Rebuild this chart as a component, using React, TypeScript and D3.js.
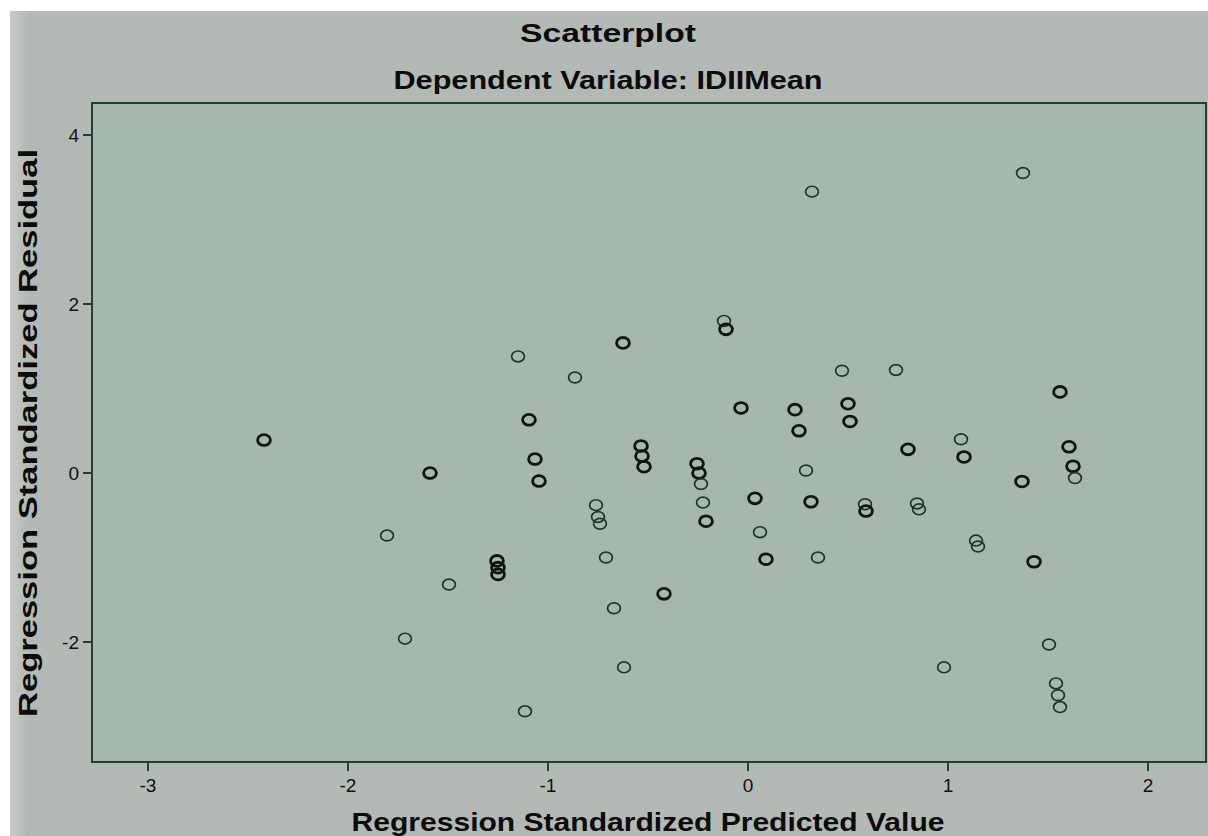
import React, { useEffect, useRef } from 'react';
import * as d3 from 'd3';

// values
const predicted = [
  -2.42, -1.805, -1.715, -1.59, -1.495, -1.255, -1.25, -1.25, -1.15, -1.115,
  -1.095, -1.065, -1.045, -0.865, -0.76, -0.75, -0.74, -0.71, -0.67, -0.625,
  -0.62, -0.535, -0.53, -0.52, -0.42, -0.255, -0.245, -0.235, -0.225, -0.21,
  -0.12, -0.11, -0.035, 0.035, 0.06, 0.09, 0.235, 0.255, 0.29, 0.32,
  0.315, 0.35, 0.47, 0.5, 0.51, 0.585, 0.59, 0.74, 0.8, 0.845,
  0.855, 0.98, 1.065, 1.08, 1.14, 1.15, 1.375, 1.37, 1.43, 1.505,
  1.54, 1.55, 1.56, 1.56, 1.605, 1.625, 1.635,
];
const residual = [
  0.39, -0.74, -1.96, 0.0, -1.32, -1.04, -1.12, -1.2, 1.38, -2.82,
  0.63, 0.165, -0.095, 1.13, -0.38, -0.52, -0.6, -1.0, -1.6, 1.54,
  -2.3, 0.32, 0.2, 0.075, -1.43, 0.11, 0.0, -0.13, -0.35, -0.57,
  1.8, 1.7, 0.77, -0.3, -0.7, -1.02, 0.75, 0.5, 0.03, 3.33,
  -0.34, -1.0, 1.21, 0.82, 0.61, -0.37, -0.45, 1.22, 0.28, -0.36,
  -0.43, -2.3, 0.4, 0.19, -0.8, -0.87, 3.55, -0.1, -1.05, -2.03,
  -2.49, -2.63, -2.77, 0.96, 0.31, 0.08, -0.06,
];
// 2 = overplotted cases (drawn darker in the original)
const overlap = [
  2, 1, 1, 2, 1, 2, 2, 2, 1, 1,
  2, 2, 2, 1, 1, 1, 1, 1, 1, 2,
  1, 2, 2, 2, 2, 2, 2, 1, 1, 2,
  1, 2, 2, 2, 1, 2, 2, 2, 1, 1,
  2, 1, 1, 2, 2, 1, 2, 1, 2, 1,
  1, 1, 1, 2, 1, 1, 1, 2, 2, 1,
  1, 1, 1, 2, 2, 2, 1,
];
const xTicks = [-3, -2, -1, 0, 1, 2];
const yTicks = [-2, 0, 2, 4];

const W = 1208;
const H = 836;

export default function App() {
  const svgRef = useRef<SVGSVGElement>(null);

  useEffect(() => {
    const svg = d3.select(svgRef.current);
    svg.selectAll('*').remove();

    const plot = { left: 92, top: 103, right: 1206, bottom: 762 };
    const x = d3.scaleLinear().domain([-3.28, 2.29]).range([plot.left, plot.right]);
    const y = d3.scaleLinear().domain([-3.42, 4.379]).range([plot.bottom, plot.top]);

    const defs = svg.append('defs');
    const edge = defs.append('linearGradient').attr('id', 'edgeFade').attr('x1', '0%').attr('x2', '100%');
    edge.append('stop').attr('offset', '0%').attr('stop-color', '#c7ccc9');
    edge.append('stop').attr('offset', '1.5%').attr('stop-color', '#b3b9b5');
    edge.append('stop').attr('offset', '100%').attr('stop-color', '#b3b9b5');

    svg.append('rect').attr('x', 0).attr('y', 0).attr('width', W).attr('height', H).attr('fill', '#ffffff');
    svg.append('rect').attr('x', 10).attr('y', 11).attr('width', W - 10).attr('height', H - 11).attr('fill', 'url(#edgeFade)');

    svg.append('rect')
      .attr('x', plot.left).attr('y', plot.top)
      .attr('width', plot.right - plot.left).attr('height', plot.bottom - plot.top)
      .attr('fill', '#a6b8ae').attr('stroke', '#24402f').attr('stroke-width', 2);

    const font = 'Liberation Sans, Arial, sans-serif';
    const boldText = (sel: any, len: number) => sel
      .attr('text-anchor', 'middle')
      .attr('textLength', len).attr('lengthAdjust', 'spacingAndGlyphs')
      .style('font-family', font).style('font-weight', 'bold').style('font-size', '25px').attr('fill', '#0b0b0b');

    boldText(svg.append('text').attr('x', 608).attr('y', 42), 176).text('Scatterplot');
    boldText(svg.append('text').attr('x', 608).attr('y', 89), 429).text('Dependent Variable: IDIIMean');

    // x axis ticks
    const gx = svg.append('g');
    xTicks.forEach(t => {
      gx.append('line').attr('x1', x(t)).attr('x2', x(t)).attr('y1', plot.bottom).attr('y2', plot.bottom + 9)
        .attr('stroke', '#24402f').attr('stroke-width', 2);
      gx.append('text').attr('x', x(t)).attr('y', plot.bottom + 30).attr('text-anchor', 'middle')
        .style('font-family', font).style('font-size', '19px').attr('fill', '#111').text(t);
    });

    // y axis ticks
    const gy = svg.append('g');
    yTicks.forEach(t => {
      gy.append('line').attr('x1', plot.left - 9).attr('x2', plot.left).attr('y1', y(t)).attr('y2', y(t))
        .attr('stroke', '#24402f').attr('stroke-width', 2);
      gy.append('text').attr('x', plot.left - 13).attr('y', y(t) + 7).attr('text-anchor', 'end')
        .style('font-family', font).style('font-size', '19px').attr('fill', '#111').text(t);
    });

    boldText(svg.append('text').attr('x', 648).attr('y', 831), 593).text('Regression Standardized Predicted Value');
    boldText(svg.append('text').attr('transform', `translate(37, 433) rotate(-90)`), 568).text('Regression Standardized Residual');

    const pts = predicted.map((p, i) => ({ p, r: residual[i], n: overlap[i] }));
    svg.append('g').selectAll('ellipse').data(pts).enter().append('ellipse')
      .attr('cx', d => x(d.p)).attr('cy', d => y(d.r))
      .attr('rx', 6.4).attr('ry', 5.4)
      .attr('fill', 'none')
      .attr('stroke', d => d.n > 1 ? '#0d140f' : '#1d3526')
      .attr('stroke-width', d => d.n > 1 ? 2.8 : 1.7);
  }, []);

  return (
    <svg ref={svgRef} width={W} height={H}
      style={{ position: 'absolute', left: 0, top: 0, display: 'block' }} />
  );
}
